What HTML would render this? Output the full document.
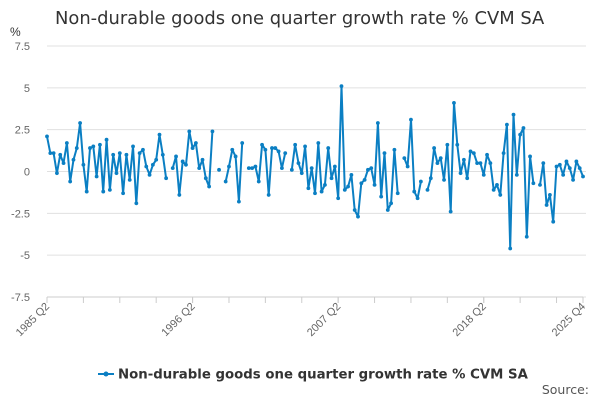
<!DOCTYPE html>
<html><head><meta charset="utf-8"><style>
body{margin:0;background:#fff;font-family:"Liberation Sans",sans-serif;}
svg text{font-family:"Liberation Sans",sans-serif;}
svg text.dv{font-family:"DejaVu Sans",sans-serif;}
</style></head><body>
<svg id="chart" width="600" height="400">
<text class="dv" x="55" y="24" font-size="17.9" fill="#333">Non-durable goods one quarter growth rate % CVM SA</text>
<text x="10" y="36" font-size="12" fill="#333">%</text>
<g id="grid"></g><g id="xaxis"></g><g id="series"></g>
<g>
<line x1="98" y1="374" x2="114" y2="374" stroke="#0b7fc3" stroke-width="2"/>
<circle cx="106" cy="374" r="2.5" fill="#0b7fc3"/>
<text class="dv" x="118" y="378.5" font-size="13.3" font-weight="bold" fill="#333">Non-durable goods one quarter growth rate % CVM SA</text>
</g>
<text class="dv" x="589" y="394" font-size="12.5" fill="#555" text-anchor="end">Source:</text>
</svg>
<script>
const yTicks=[7.5,5,2.5,0,-2.5,-5,-7.5];
const yTickLabels=["7.5","5","2.5","0","-2.5","-5","-7.5"];
const xTickLabels=["1985 Q2","1996 Q2","2007 Q2","2018 Q2","2025 Q4"];
const xTickIndex=[0,44,88,132,162];
const values=[2.1,1.1,1.1,-0.1,1.0,0.5,1.7,-0.6,0.7,1.4,2.9,0.4,-1.2,1.4,1.5,-0.3,1.6,-1.2,1.9,-1.1,
1.0,-0.1,1.1,-1.3,1.0,-0.5,1.5,-1.9,1.1,1.3,0.3,-0.2,0.4,0.7,2.2,1.0,-0.4,null,0.2,0.9,
-1.4,0.6,0.4,2.4,1.4,1.7,0.2,0.7,-0.4,-0.9,2.4,null,0.1,null,-0.6,0.3,1.3,0.9,-1.8,1.7,
null,0.2,0.2,0.3,-0.6,1.6,1.3,-1.4,1.4,1.4,1.2,0.2,1.1,null,0.1,1.6,0.5,-0.1,1.5,-1.0,
0.2,-1.3,1.7,-1.2,-0.8,1.4,-0.4,0.3,-1.6,5.1,-1.1,-0.9,-0.2,-2.3,-2.7,-0.7,-0.5,0.1,0.2,-0.8,
2.9,-1.5,1.1,-2.3,-1.9,1.3,-1.3,null,0.8,0.3,3.1,-1.2,-1.6,-0.6,null,-1.1,-0.4,1.4,0.5,0.8,
-0.5,1.6,-2.4,4.1,1.6,-0.1,0.7,-0.4,1.2,1.1,0.5,0.5,-0.2,1.0,0.5,-1.1,-0.8,-1.4,1.1,2.8,
-4.6,3.4,-0.2,2.2,2.6,-3.9,0.9,-0.7,null,-0.8,0.5,-2.0,-1.4,-3.0,0.3,0.4,-0.2,0.6,0.2,-0.5,
0.6,0.2,-0.3];
const X0=47,X1=583,Y0=46,Y1=297,N=162;
const xs=i=>X0+(X1-X0)*i/N;
const ys=v=>Y0+(7.5-v)*(Y1-Y0)/15;
const NS="http://www.w3.org/2000/svg";
function mk(t,a,p){const e=document.createElementNS(NS,t);for(const k in a)e.setAttribute(k,a[k]);p.appendChild(e);return e;}
const grid=document.getElementById('grid');
yTicks.forEach((v,i)=>{
 const l=mk('line',{x1:X0,x2:X1+3,y1:ys(v),y2:ys(v),stroke:'#e0e0e0','stroke-width':1},grid);
 
 
 const t=mk('text',{x:30,y:ys(v)+4,'font-size':11,fill:'#666','text-anchor':'end'},grid);
 t.textContent=yTickLabels[i];
 
 
});
const xa=document.getElementById('xaxis');
const ax=mk('line',{x1:X0,x2:X1,y1:Y1,y2:Y1,stroke:'#ccc'},xa);


for(let q=0;q<=N;q+=11){const tk=mk('line',{x1:xs(q),x2:xs(q),y1:Y1,y2:Y1+6,stroke:'#ccc'},xa);
 
 }
xTickIndex.forEach((q,i)=>{
 const x=xs(q);
 const tk=mk('line',{x1:x,x2:x,y1:Y1,y2:Y1+6,stroke:'#ccc'},xa);
 
 
 const t=mk('text',{x:x+3,y:Y1+10,'font-size':11,fill:'#666','text-anchor':'end',transform:`rotate(-45 ${x+3} ${Y1+10})`},xa);
 t.textContent=xTickLabels[i];
 
 
});
const s=document.getElementById('series');
let d='',pen=false;
values.forEach((v,i)=>{if(v===null){pen=false;return;}d+=(pen?'L':'M')+xs(i).toFixed(1)+' '+ys(v).toFixed(1);pen=true;});
const p=mk('path',{d:d,fill:'none',stroke:'#0b7fc3','stroke-width':2,'stroke-linejoin':'round'},s);


values.forEach((v,i)=>{if(v===null)return;
 const c=mk('circle',{cx:xs(i),cy:ys(v),r:1.9,fill:'#0b7fc3'},s);
 
 
});
</script>
</body></html>
